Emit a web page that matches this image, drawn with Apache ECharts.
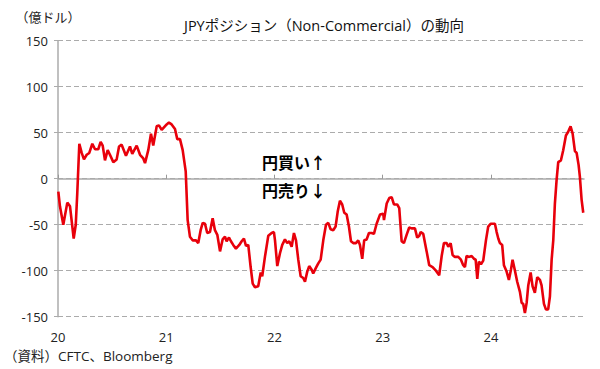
<!DOCTYPE html>
<html>
<head>
<meta charset="utf-8">
<script src="https://cdn.jsdelivr.net/npm/echarts@6/dist/echarts.min.js"></script>
<style>
html,body{margin:0;padding:0;background:#fff;}
#c{width:600px;height:369px;}
</style>
</head>
<body>
<div id="c"></div>
<script>
// Decimal year of each observation
var years = [
2020.003,2020.018,2020.049,2020.086,2020.111,2020.145,2020.164,2020.178,2020.197,2020.219,
2020.240,2020.265,2020.289,2020.317,2020.342,2020.372,2020.394,2020.413,2020.434,2020.459,
2020.480,2020.511,2020.542,2020.564,2020.588,2020.628,2020.665,2020.686,2020.727,2020.758,
2020.788,2020.804,2020.834,2020.859,2020.880,2020.912,2020.933,2020.958,2021.004,2021.025,
2021.050,2021.081,2021.102,2021.127,2021.152,2021.180,2021.198,2021.219,2021.244,2021.275,
2021.296,2021.318,2021.337,2021.358,2021.379,2021.404,2021.429,2021.450,2021.472,2021.497,
2021.521,2021.543,2021.558,2021.580,2021.598,2021.619,2021.644,2021.675,2021.697,2021.718,
2021.737,2021.758,2021.780,2021.799,2021.820,2021.850,2021.873,2021.887,2021.912,2021.943,
2021.974,2021.995,2022.005,2022.026,2022.051,2022.072,2022.097,2022.118,2022.137,2022.159,
2022.180,2022.199,2022.220,2022.242,2022.266,2022.282,2022.303,2022.321,2022.344,2022.358,
2022.383,2022.405,2022.427,2022.451,2022.476,2022.497,2022.519,2022.543,2022.565,2022.584,
2022.605,2022.626,2022.645,2022.667,2022.688,2022.707,2022.728,2022.753,2022.774,2022.790,
2022.811,2022.829,2022.852,2022.873,2022.898,2022.919,2022.944,2022.975,2023.005,2023.012,
2023.037,2023.061,2023.083,2023.104,2023.134,2023.153,2023.175,2023.196,2023.221,2023.245,
2023.267,2023.298,2023.319,2023.338,2023.351,2023.375,2023.406,2023.430,2023.461,2023.492,
2023.522,2023.545,2023.566,2023.591,2023.606,2023.628,2023.646,2023.667,2023.698,2023.723,
2023.744,2023.760,2023.775,2023.800,2023.822,2023.843,2023.859,2023.874,2023.889,2023.908,
2023.929,2023.954,2023.975,2023.997,2024.021,2024.037,2024.053,2024.068,2024.083,2024.104,
2024.120,2024.145,2024.166,2024.185,2024.200,2024.222,2024.243,2024.268,2024.284,2024.298,
2024.314,2024.330,2024.345,2024.367,2024.385,2024.406,2024.428,2024.453,2024.468,2024.490,
2024.508,2024.529,2024.545,2024.561,2024.576,2024.591,2024.607,2024.622,2024.647,2024.668,
2024.693,2024.714,2024.736,2024.755,2024.776,2024.792,2024.810,2024.822,2024.838,2024.853
];
// JPY net non-commercial position (100 million USD)
var positions = [
-14,-30,-50,-26,-30,-65,-50,-16,38,28,
21,26,28,38,32,32,40,36,20,31,
26,18,21,35,37,25,35,27,36,26,
22,17,31,49,36,57,58,53,59,61,
59,54,43,43,31,8,-45,-63,-67,-67,
-70,-56,-48,-49,-59,-58,-43,-56,-61,-79,
-66,-63,-68,-64,-68,-72,-76,-72,-68,-65,
-73,-72,-96,-114,-118,-117,-102,-106,-85,-62,
-59,-58,-67,-95,-81,-72,-66,-70,-68,-74,
-59,-67,-88,-106,-108,-112,-101,-95,-99,-103,
-97,-92,-88,-67,-50,-48,-55,-56,-52,-36,
-24,-28,-37,-39,-52,-68,-70,-70,-67,-72,
-87,-67,-66,-59,-59,-60,-49,-39,-38,-45,
-27,-21,-20,-28,-28,-32,-68,-70,-61,-53,
-54,-54,-64,-62,-58,-60,-79,-94,-96,-100,
-105,-84,-70,-70,-74,-70,-83,-85,-85,-88,
-94,-96,-84,-85,-84,-87,-88,-109,-90,-93,
-89,-67,-52,-49,-49,-49,-58,-65,-70,-72,
-94,-101,-110,-99,-88,-100,-112,-123,-135,-136,
-146,-135,-116,-102,-117,-124,-107,-110,-116,-136,
-142,-142,-128,-88,-67,-27,-1,18,20,31,
47,51,57,49,30,28,15,2,-23,-37
];
var yearTicks = [2020, 2021, 2022, 2023, 2024];
var yTicks = [-150, -100, -50, 0, 50, 100, 150];

var titleText = 'JPYポジション（Non-Commercial）の動向';
var unitText = '（億ドル）';
var sourceText = '（資料）CFTC、Bloomberg';
var buyText = '円買い↑';
var sellText = '円売り↓';

var data = years.map(function (y, i) { return [y, positions[i]]; });
var FONT = '"Open Sans", "Noto Sans CJK JP", sans-serif';
var xMin = 2020, xMax = 2024.86;

var chart = echarts.init(document.getElementById('c'), null, {renderer: 'svg'});
chart.setOption({
  animation: false,
  backgroundColor: '#ffffff',
  grid: {left: 58, right: 16, top: 40.7, bottom: 52.3, containLabel: false},
  xAxis: [{
    type: 'value', min: xMin, max: xMax, interval: 1,
    position: 'bottom',
    axisLine: {show: false}, axisTick: {show: false}, splitLine: {show: false},
    axisLabel: {
      customValues: yearTicks,
      margin: 14, color: '#222', fontSize: 13, fontFamily: FONT,
      formatter: function (v) { var r = Math.round(v); return Math.abs(v - r) < 1e-6 ? String(r % 100) : ''; }
    }
  }, {
    type: 'value', min: xMin, max: xMax, interval: 1,
    axisLine: {show: true, onZero: true, onZeroAxisIndex: 0, lineStyle: {color: '#ABABAB', width: 1.5}},
    axisTick: {show: true, inside: false, length: 4, customValues: yearTicks, lineStyle: {color: '#999999', width: 1}},
    axisLabel: {show: false},
    splitLine: {show: false}
  }],
  yAxis: {
    type: 'value', min: -150, max: 150, interval: 50,
    axisLine: {show: true, onZero: false, lineStyle: {color: '#ABABAB', width: 1.5}},
    axisTick: {show: true, length: 4, lineStyle: {color: '#ABABAB'}},
    axisLabel: {color: '#222', fontSize: 13, fontFamily: FONT, margin: 10},
    splitLine: {show: true, lineStyle: {color: '#ABABAB', width: 1.2, type: [5, 3]}}
  },
  series: [{
    type: 'line', xAxisIndex: 0, data: data, showSymbol: false,
    lineStyle: {color: '#E8000B', width: 2.6},
    z: 5
  }],
  graphic: [
    {type: 'text', x: 324, y: 25, style: {text: titleText, align: 'center', verticalAlign: 'middle', fontSize: 14.5, fontFamily: FONT, fill: '#111'}},
    {type: 'text', x: 48, y: 17, style: {text: unitText, align: 'center', verticalAlign: 'middle', fontSize: 13, fontFamily: FONT, fill: '#222'}},
    {type: 'text', x: 4, y: 356, style: {text: sourceText, align: 'left', verticalAlign: 'middle', fontSize: 13.5, fontFamily: FONT, fill: '#222'}},
    {type: 'text', x: 262, y: 163, style: {text: buyText, align: 'left', verticalAlign: 'middle', fontSize: 16, fontWeight: 'bold', fontFamily: FONT, fill: '#000'}},
    {type: 'text', x: 262, y: 191, style: {text: sellText, align: 'left', verticalAlign: 'middle', fontSize: 16, fontWeight: 'bold', fontFamily: FONT, fill: '#000'}}
  ]
});
</script>
</body>
</html>
